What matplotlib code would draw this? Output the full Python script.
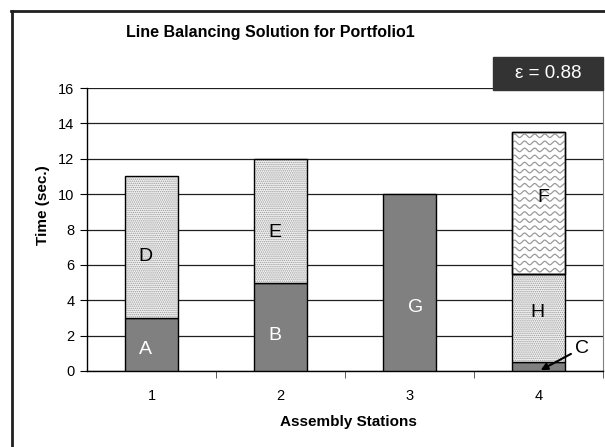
import matplotlib
matplotlib.use('Agg')
import matplotlib.pyplot as plt
import numpy as np
from matplotlib.ticker import FixedLocator
from matplotlib.patches import Rectangle

plt.rcParams['font.family'] = ['Liberation Sans', 'DejaVu Sans']
plt.rcParams['hatch.linewidth'] = 0.7

stations = [1, 2, 3, 4]
station_labels = ['1', '2', '3', '4']

# task times stacked per station (bottom to top)
bottom_tasks = ['A', 'B', 'G', 'C']
bottom_times = [3, 5, 10, 0.5]
middle_tasks = ['D', 'E', None, 'H']
middle_times = [8, 7, 0, 5]
top_tasks = [None, None, None, 'F']
top_times = [0, 0, 0, 8]

efficiency = 0.88

# where each task letter sits (station offset, height)
label_tasks = ['A', 'D', 'B', 'E', 'G', 'H', 'F']
label_x = [0.957, 0.95, 1.957, 1.957, 3.05, 3.99, 4.035]
label_y = [1.2, 6.45, 2.0, 7.85, 3.6, 3.3, 9.8]
label_white = [True, False, True, False, True, False, False]

fig = plt.figure(figsize=(6.05, 4.47), dpi=100)
ax = fig.add_axes([87 / 605, 76 / 447, 516 / 605, 283 / 447])

width = 0.41
x = np.array(stations)
b = np.array(bottom_times)
m = np.array(middle_times)
t = np.array(top_times)

ax.bar(x, b, width, color='#808080', edgecolor='black', linewidth=1, zorder=3)
for xi, bi, mi, name in zip(x, b, m, middle_tasks):
    if name is None:
        continue
    ax.bar(xi, mi, width, bottom=bi, color='#f2f2f2', edgecolor='#9a9a9a',
           hatch='........', linewidth=0, zorder=3)
    ax.bar(xi, mi, width, bottom=bi, fill=False, edgecolor='black',
           linewidth=1, zorder=4)

# wavy fill for the top segment
for xi, bi, mi, ti, name in zip(x, b, m, t, top_tasks):
    if name is None:
        continue
    bars = ax.bar(xi, ti, width, bottom=bi + mi, color='white',
                  edgecolor='black', linewidth=1, zorder=3)
    patch = bars[0]
    x0, w = patch.get_x(), patch.get_width()
    y0, h = patch.get_y(), patch.get_height()
    xs = np.linspace(x0, x0 + w, 200)
    for yy in np.arange(y0 + 0.2, y0 + h + 0.4, 0.4):
        line, = ax.plot(xs, yy + 0.1 * np.sin(2 * np.pi * (xs - x0) / 0.078),
                        color='#9a9a9a', lw=0.9, zorder=3.5)
        line.set_clip_path(patch)
    ax.bar(xi, ti, width, bottom=bi + mi, fill=False, edgecolor='black',
           linewidth=1, zorder=4)

for name, lx, ly, white in zip(label_tasks, label_x, label_y, label_white):
    ax.text(lx, ly, name, ha='center', va='center', fontsize=14,
            color='white' if white else 'black', zorder=5)

# C is too thin to hold its letter, so point at it
ax.annotate('C', xy=(4.017, 0.05), xytext=(4.337, 1.3), fontsize=14,
            ha='center', va='center', zorder=6,
            arrowprops=dict(arrowstyle='-|>', color='black', lw=1.5,
                            shrinkA=1, shrinkB=0, mutation_scale=10))

ax.set_xlim(0.5, 4.5)
ax.set_ylim(0, 16)
ax.set_yticks(np.arange(0, 17, 2))
ax.set_yticklabels([str(v) for v in range(0, 17, 2)], fontsize=10.5)
ax.set_xticks(stations)
ax.set_xticklabels(station_labels, fontsize=10.5)
ax.xaxis.set_minor_locator(FixedLocator([1.5, 2.5, 3.5, 4.5]))
ax.tick_params(axis='x', which='major', length=0, pad=13)
ax.tick_params(axis='x', which='minor', length=5, direction='out', color='#404040')
ax.tick_params(axis='y', length=5, direction='out', pad=4)
ax.yaxis.grid(True, color='#202020', lw=0.9, zorder=0)
ax.set_axisbelow(True)
for s in ['left', 'bottom']:
    ax.spines[s].set_color('black')
    ax.spines[s].set_linewidth(1)
ax.spines['top'].set_visible(False)
ax.spines['right'].set_color('#808080')

fig.text(270 / 605, 1 - 33 / 447, 'Line Balancing Solution for Portfolio1',
         ha='center', va='center', fontsize=11.5, fontweight='bold')
fig.text(348 / 605, 1 - 422 / 447, 'Assembly Stations',
         ha='center', va='center', fontsize=11, fontweight='bold')
fig.text(43 / 605, 1 - 205 / 447, 'Time (sec.)', rotation=90,
         ha='center', va='center', fontsize=11, fontweight='bold')

# efficiency badge in the top right corner
fig.patches.append(Rectangle((493 / 605, 1 - 90 / 447), 110 / 605, 33 / 447,
                             transform=fig.transFigure, color='#333333'))
fig.text(548 / 605, 1 - 74 / 447, 'ε = %.2f' % efficiency, ha='center',
         va='center', fontsize=13.5, color='white')

# chart frame
fig.add_artist(plt.Line2D([12 / 605, 12 / 605], [0, 1 - 11 / 447],
                          transform=fig.transFigure, color='#202020', lw=2))
fig.add_artist(plt.Line2D([11 / 605, 1], [1 - 11 / 447, 1 - 11 / 447],
                          transform=fig.transFigure, color='#202020', lw=2))

fig.savefig('out.png', dpi=100)
